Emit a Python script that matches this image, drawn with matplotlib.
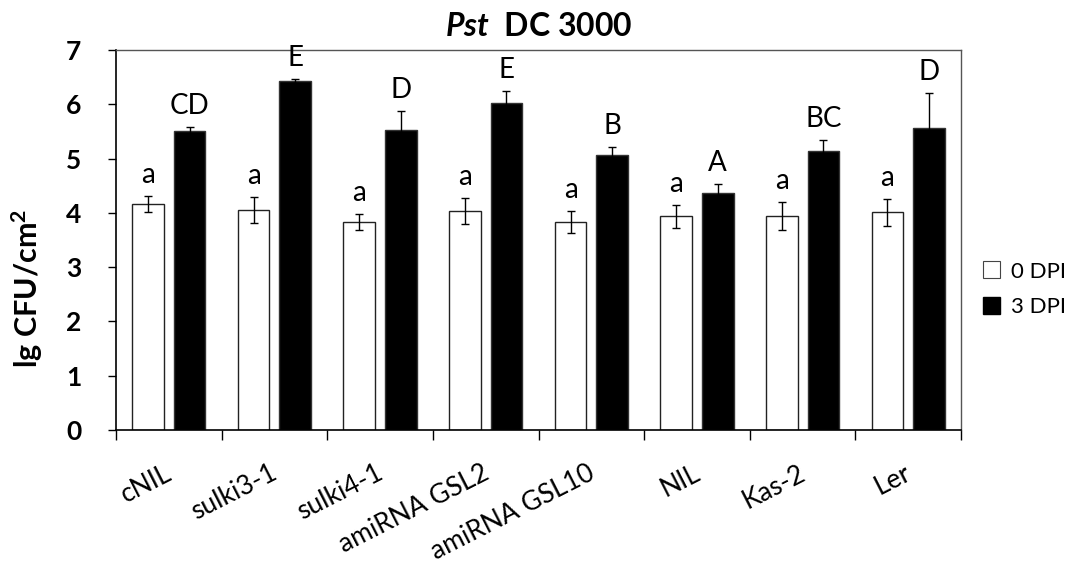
import numpy as np
import matplotlib
matplotlib.use("Agg")
import matplotlib.pyplot as plt
from matplotlib.patches import Patch

plt.rcParams['font.family'] = ['Lato', 'DejaVu Sans']
plt.rcParams['mathtext.fontset'] = 'custom'
plt.rcParams['mathtext.rm'] = 'Lato'
plt.rcParams['mathtext.bf'] = 'Lato:bold'
plt.rcParams['mathtext.it'] = 'Lato:italic'
plt.rcParams['mathtext.bfit'] = 'Lato:bold:italic'

# Strains and bacterial titers (lg CFU/cm^2)
strains = ["cNIL", "sulki3-1", "sulki4-1", "amiRNA GSL2", "amiRNA GSL10",
           "NIL", "Kas-2", "Ler"]
dpi0_mean = [4.16, 4.05, 3.83, 4.03, 3.83, 3.94, 3.94, 4.01]
dpi0_err = [0.15, 0.24, 0.15, 0.24, 0.20, 0.21, 0.26, 0.25]
dpi3_mean = [5.51, 6.43, 5.52, 6.03, 5.07, 4.36, 5.14, 5.56]
dpi3_err = [0.08, 0.04, 0.35, 0.21, 0.15, 0.17, 0.20, 0.64]
dpi0_letters = ["a", "a", "a", "a", "a", "a", "a", "a"]
dpi3_letters = ["CD", "E", "D", "E", "B", "A", "BC", "D"]
series_names = ["0 DPI", "3 DPI"]
y_ticks = [0, 1, 2, 3, 4, 5, 6, 7]

fig = plt.figure(figsize=(10.73, 5.70), dpi=100)
ax = fig.add_axes([116 / 1073, 1 - 430 / 570, (961 - 116) / 1073, (430 - 50) / 570])

x = np.arange(len(strains))
w = 0.30
off = 0.197
ax.bar(x - off, dpi0_mean, w, color="white", edgecolor="#222222", linewidth=1.0, zorder=2)
ax.bar(x + off, dpi3_mean, w, color="black", edgecolor="#333333", linewidth=1.0, zorder=2)
ax.errorbar(x - off, dpi0_mean, yerr=dpi0_err, fmt="none", ecolor="black",
            elinewidth=1.0, capsize=3, capthick=1.0, zorder=3)
ax.errorbar(x + off, dpi3_mean, yerr=dpi3_err, fmt="none", ecolor="black",
            elinewidth=1.0, capsize=3, capthick=1.0, zorder=3)

# Significance letters above each error bar
gap = 0.24
for xi, m, e, t in zip(x - off, dpi0_mean, dpi0_err, dpi0_letters):
    ax.text(xi, m + e + gap, t, ha="center", va="baseline", fontsize=20)
for xi, m, e, t in zip(x + off, dpi3_mean, dpi3_err, dpi3_letters):
    ax.text(xi, m + e + gap, t, ha="center", va="baseline", fontsize=20)

ax.set_xlim(-0.5, len(strains) - 0.5)
ax.set_ylim(0, 7)
ax.set_yticks(y_ticks)
ax.set_yticklabels([str(v) for v in y_ticks], fontsize=19, fontweight="bold")
ax.tick_params(axis="y", direction="out", length=6, width=1, pad=19)

# Category boundaries carry the x tick marks; names sit under each group
ax.set_xticks(np.arange(len(strains) + 1) - 0.5)
ax.set_xticklabels([])
ax.tick_params(axis="x", direction="out", length=7, width=1)
for xi, name in zip(x, strains):
    ax.annotate(name, xy=(xi, 0), xycoords=("data", "axes fraction"),
                xytext=(1, -30), textcoords="offset points",
                rotation=27, rotation_mode="anchor", ha="right", va="center",
                fontsize=19)

for side in ["top", "right"]:
    ax.spines[side].set_color("#555555")
    ax.spines[side].set_linewidth(1.0)
for side in ["left", "bottom"]:
    ax.spines[side].set_color("black")
    ax.spines[side].set_linewidth(1.2)

ax.set_ylabel("lg CFU/cm$^\\mathbf{2}$", fontsize=22, fontweight="bold")
ax.yaxis.set_label_coords(-0.084, 0.374)

fig.text((116 + 961) / 2 / 1073, 1 - 27 / 570, "$\\mathbfit{Pst}$  DC 3000",
         ha="center", va="center", fontsize=23, fontweight="bold")

handles = [Patch(facecolor="white", edgecolor="#444444", linewidth=0.8),
           Patch(facecolor="black", edgecolor="black")]
ax.legend(handles, series_names, loc="center left", bbox_to_anchor=(1.015, 0.37),
          frameon=False, fontsize=16, handlelength=0.8, handleheight=0.8,
          handletextpad=0.5, labelspacing=0.7, borderaxespad=0)

fig.savefig("out.png", dpi=100, facecolor="white")
